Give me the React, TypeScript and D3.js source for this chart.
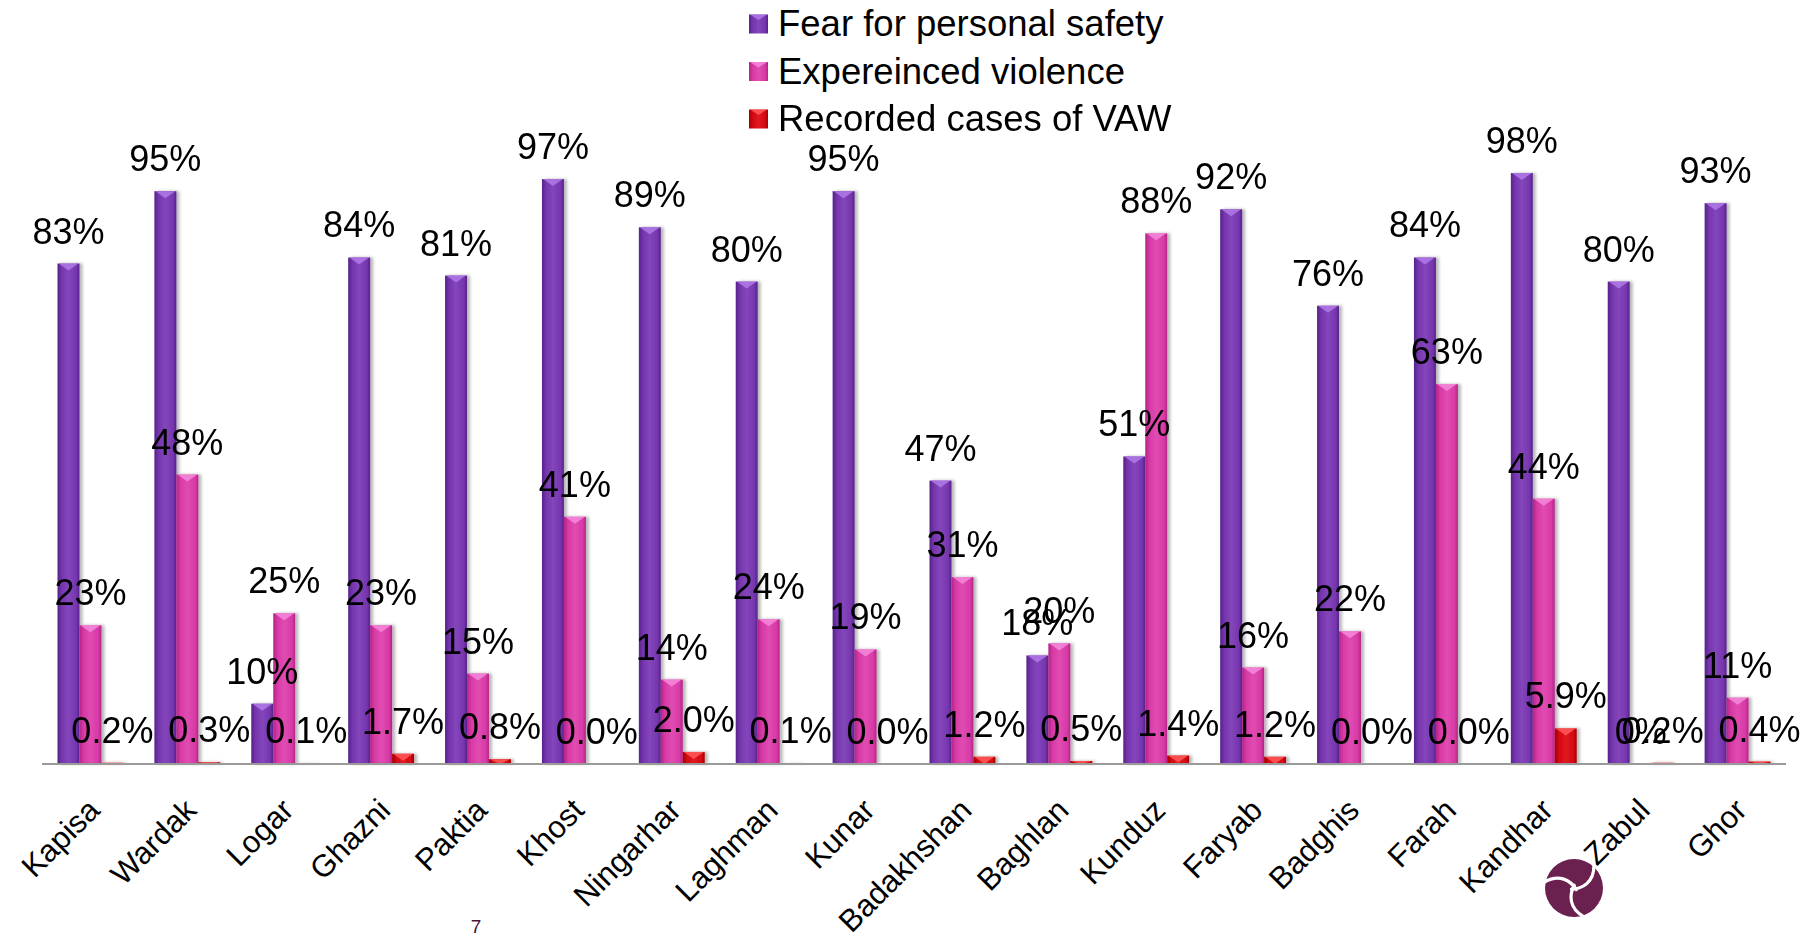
import React from "react";
import * as d3 from "d3";

const categories = [
  "Kapisa", "Wardak", "Logar", "Ghazni", "Paktia", "Khost", "Ningarhar", "Laghman", "Kunar",
  "Badakhshan", "Baghlan", "Kunduz", "Faryab", "Badghis", "Farah", "Kandhar", "Zabul", "Ghor",
];
const seriesNames = ["Fear for personal safety", "Expereinced violence", "Recorded cases of VAW"];
const fearValues = [83, 95, 10, 84, 81, 97, 89, 80, 95, 47, 18, 51, 92, 76, 84, 98, 80, 93];
const violenceValues = [23, 48, 25, 23, 15, 41, 14, 24, 19, 31, 20, 88, 16, 22, 63, 44, 0, 11];
const recordedValues = [0.2, 0.3, 0.1, 1.7, 0.8, 0.0, 2.0, 0.1, 0.0, 1.2, 0.5, 1.4, 1.2, 0.0, 0.0, 5.9, 0.2, 0.4];
const fearLabels = fearValues.map((v) => `${v}%`);
const violenceLabels = violenceValues.map((v) => `${v}%`);
const recordedLabels = recordedValues.map((v) => `${v.toFixed(1)}%`);
const pageNumber = "7";

const W = 1814;
const H = 938;
const FONT = "'Liberation Sans', Arial, sans-serif";

const palettes = [
  { dark: "#55228a", mid: "#7636ae", light: "#8446bb", top: "#b07ae6" },
  { dark: "#b42486", mid: "#d83aa6", light: "#e04cb2", top: "#f58ada" },
  { dark: "#a80000", mid: "#d40812", light: "#e01820", top: "#ff5a5a" },
];

export default function App() {
  const x = d3.scaleBand<string>().domain(categories).range([42, 1786]).paddingInner(0.32).paddingOuter(0.16);
  const xs = d3.scaleBand<number>().domain([0, 1, 2]).range([0, x.bandwidth()]).padding(0);
  const y = d3.scaleLinear().domain([0, 100]).range([764, 161]);
  const seriesValues = [fearValues, violenceValues, recordedValues];
  const seriesLabels = [fearLabels, violenceLabels, recordedLabels];
  const bw = xs.bandwidth();

  return (
    <svg width={W} height={H} style={{ position: "absolute", left: 0, top: 0, background: "#fff" }} fontFamily={FONT}>
      <defs>
        {palettes.map((p, i) => (
          <linearGradient key={i} id={`g${i}`} x1="0" x2="1" y1="0" y2="0">
            <stop offset="0" stopColor={p.dark} />
            <stop offset="0.2" stopColor={p.mid} />
            <stop offset="0.5" stopColor={p.light} />
            <stop offset="0.85" stopColor={p.mid} />
            <stop offset="1" stopColor={p.dark} />
          </linearGradient>
        ))}
        <filter id="sh" x="-30%" y="-5%" width="160%" height="110%">
          <feDropShadow dx="3" dy="0" stdDeviation="1.8" floodColor="#000" floodOpacity="0.28" />
        </filter>
      </defs>
      <rect width={W} height={H} fill="#fff" />

      {/* logo */}
      <g transform="translate(1574,888)">
        <circle r={29} fill="#6b2150" />
        {[0, 120, 240].map((a) => (
          <path
            key={a}
            transform={`rotate(${a + 20})`}
            d="M-2,2 C8,-2 17,-12 11,-28"
            fill="none"
            stroke="#fff"
            strokeWidth={3.2}
            strokeLinecap="round"
          />
        ))}
      </g>

      {/* bars */}
      {seriesValues.map((vals, si) => (
        <g key={si} filter="url(#sh)">
          {vals.map((v, ci) => {
            const x0 = (x(categories[ci]) as number) + (xs(si) as number);
            const yt = y(v);
            const h = y(0) - yt;
            if (h <= 0) return null;
            const bev = Math.min(7, h);
            return (
              <g key={ci}>
                <rect x={x0} y={yt} width={bw} height={h} fill={`url(#g${si})`} />
                <polygon
                  points={`${x0 + 1},${yt} ${x0 + bw - 1},${yt} ${x0 + bw / 2},${yt + bev}`}
                  fill={palettes[si].top}
                  opacity={0.85}
                />
              </g>
            );
          })}
        </g>
      ))}

      {/* axis line */}
      <line x1={42} x2={1786} y1={764} y2={764} stroke="#9a9a9a" strokeWidth={2} />

      {/* value labels */}
      {seriesValues.map((vals, si) =>
        vals.map((v, ci) => {
          const cx = (x(categories[ci]) as number) + (xs(si) as number) + bw / 2;
          return (
            <text key={`${si}-${ci}`} x={cx} y={y(v) - 20} textAnchor="middle" fontSize={36} fill="#000">
              {seriesLabels[si][ci]}
            </text>
          );
        })
      )}

      {/* category labels */}
      {categories.map((c) => {
        const cx = (x(c) as number) + x.bandwidth() / 2 + 11;
        return (
          <text key={c} transform={`translate(${cx},812) rotate(-45)`} textAnchor="end" fontSize={31} fill="#000">
            {c}
          </text>
        );
      })}

      {/* legend */}
      {seriesNames.map((n, i) => (
        <g key={n} transform={`translate(749,${24 + i * 47.5})`}>
          <rect x={0} y={-9.5} width={19} height={19} fill={`url(#g${i})`} />
          <polygon points={`1,-9.5 18,-9.5 9.5,-4`} fill={palettes[i].top} opacity={0.85} />
          <text x={29} y={12} fontSize={36.5} fill="#000">
            {n}
          </text>
        </g>
      ))}

      <text x={476} y={933} textAnchor="middle" fontSize={19} fill="#4a1040">
        {pageNumber}
      </text>
    </svg>
  );
}
